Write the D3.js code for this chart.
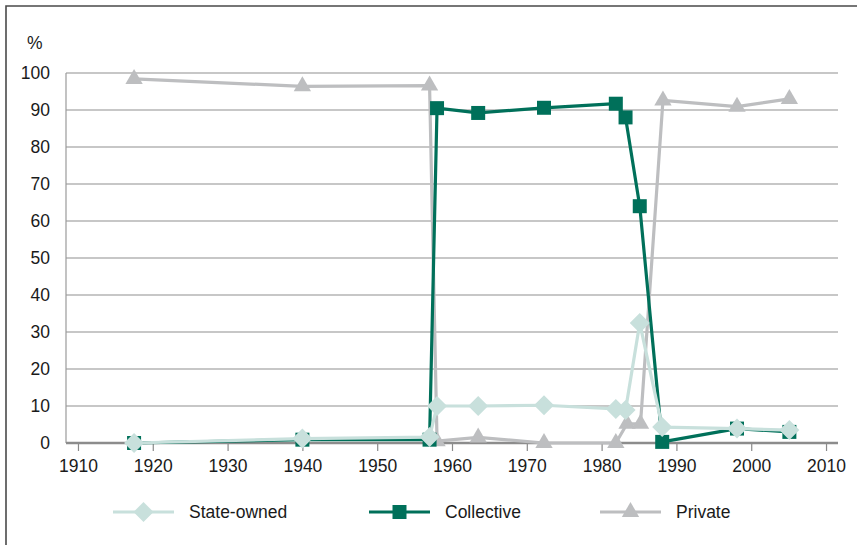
<!DOCTYPE html>
<html>
<head>
<meta charset="utf-8">
<script src="https://cdn.jsdelivr.net/npm/d3@7"></script>
<style>
  body { margin: 0; background: #fff; }
  svg text { font-family: "Liberation Sans", Arial, Helvetica, sans-serif; fill: #1a1a1a; }
</style>
</head>
<body>
<div id="container"></div>
<script>
// ---------- DATA ----------
const years = [1917.5, 1940, 1957, 1958, 1963.5, 1972.3, 1981.9, 1983.2, 1985.1, 1988.1, 1998.1, 2005.1];
const privateYears = [1917.5, 1940, 1957, 1958, 1963.5, 1972.3, 1981.9, 1983.4, 1985.2, 1988.2, 1998.1, 2005.1];
const stateOwned = [0, 1.2, 1.6, 10, 10, 10.2, 9.2, 8.9, 32.4, 4.3, 3.9, 3.5];
const collective = [0, 0.9, 0.9, 90.5, 89.2, 90.6, 91.7, 88, 64, 0.3, 3.9, 3];
const privateOwned = [98.4, 96.4, 96.6, 0.5, 1.5, 0, 0, 5.2, 5.2, 92.6, 90.9, 93];
const xTicks = [1910, 1920, 1930, 1940, 1950, 1960, 1970, 1980, 1990, 2000, 2010];
const yTicks = [0, 10, 20, 30, 40, 50, 60, 70, 80, 90, 100];

const colors = { state: '#c8e0dc', collective: '#00705a', private: '#bdbec0' };

// ---------- DIMENSIONS ----------
const width = 857;
const height = 545;
const plotLeft = 66, plotRight = 838, plotTop = 73, plotBottom = 443;

const svg = d3.select('#container').append('svg')
    .attr('width', width)
    .attr('height', height);

// frame (only top and left fall inside the picture)
svg.append('path')
    .attr('d', `M6,${height}V6H${width}`)
    .attr('fill', 'none')
    .attr('stroke', '#4a4a4a')
    .attr('stroke-width', 1.6);

const x = d3.scaleLinear().domain([1908.4, 2011.6]).range([plotLeft, plotRight]);
const y = d3.scaleLinear().domain([0, 100]).range([plotBottom, plotTop]);

// ---------- GRID & AXES ----------
svg.append('g')
    .selectAll('line')
    .data(yTicks.filter(d => d > 0))
    .join('line')
    .attr('x1', plotLeft).attr('x2', plotRight)
    .attr('y1', d => y(d)).attr('y2', d => y(d))
    .attr('stroke', '#b4b4b4')
    .attr('stroke-width', 1.6);

svg.append('line')
    .attr('x1', plotLeft).attr('x2', plotLeft)
    .attr('y1', plotTop).attr('y2', plotBottom)
    .attr('stroke', '#9a9a9a')
    .attr('stroke-width', 1.2);

const yAxis = svg.append('g')
    .attr('transform', `translate(${plotLeft},0)`)
    .call(d3.axisLeft(y).tickValues(yTicks).tickSize(0).tickPadding(16));
yAxis.select('.domain').remove();
yAxis.selectAll('text')
    .style('font-size', '17.5px')
    .attr('fill', '#1a1a1a');

const xAxis = svg.append('g')
    .attr('transform', `translate(0,${plotBottom})`)
    .call(d3.axisBottom(x).tickValues(xTicks).tickFormat(d3.format('d')).tickSize(8).tickPadding(9));
xAxis.select('.domain').remove();
xAxis.selectAll('.tick line').attr('stroke', '#8a8a8a').attr('stroke-width', 1.2);
xAxis.selectAll('text')
    .style('font-size', '17.5px')
    .attr('fill', '#1a1a1a');

svg.append('line')
    .attr('x1', plotLeft).attr('x2', plotRight)
    .attr('y1', plotBottom).attr('y2', plotBottom)
    .attr('stroke', '#8c8c8c')
    .attr('stroke-width', 2.6);

svg.append('text')
    .attr('x', 27).attr('y', 49)
    .style('font-size', '17.5px')
    .text('%');

// ---------- SERIES ----------
const diamond = d3.symbol().type(d3.symbolSquare).size(200);
const square = d3.symbol().type(d3.symbolSquare).size(196);
const triangle = d3.symbol().type(d3.symbolTriangle).size(130);

const series = [
    { name: 'Private', xs: privateYears, values: privateOwned, color: colors.private, symbol: triangle, rotate: 0 },
    { name: 'Collective', xs: years, values: collective, color: colors.collective, symbol: square, rotate: 0 },
    { name: 'State-owned', xs: years, values: stateOwned, color: colors.state, symbol: diamond, rotate: 45 }
];

const line = d3.line().x(d => x(d[0])).y(d => y(d[1]));

series.forEach(s => {
    const pts = s.xs.map((yr, i) => [yr, s.values[i]]);
    const g = svg.append('g');
    g.append('path')
        .attr('d', line(pts))
        .attr('fill', 'none')
        .attr('stroke', s.color)
        .attr('stroke-width', 3.2)
        .attr('stroke-linejoin', 'round');
    g.selectAll('path.mark')
        .data(pts)
        .join('path')
        .attr('class', 'mark')
        .attr('d', s.symbol())
        .attr('transform', d => `translate(${x(d[0])},${y(d[1])}) rotate(${s.rotate})`)
        .attr('fill', s.color);
});

// ---------- LEGEND ----------
const legendItems = [
    { label: 'State-owned', x0: 113, s: series[2] },
    { label: 'Collective', x0: 369, s: series[1] },
    { label: 'Private', x0: 600, s: series[0] }
];
const ly = 512;
const lg = svg.append('g');
legendItems.forEach(it => {
    lg.append('line')
        .attr('x1', it.x0).attr('x2', it.x0 + 61)
        .attr('y1', ly).attr('y2', ly)
        .attr('stroke', it.s.color)
        .attr('stroke-width', 3.2);
    lg.append('path')
        .attr('d', it.s.symbol())
        .attr('transform', `translate(${it.x0 + 30.5},${ly}) rotate(${it.s.rotate})`)
        .attr('fill', it.s.color);
    lg.append('text')
        .attr('x', it.x0 + 76)
        .attr('y', ly)
        .attr('dy', '0.36em')
        .style('font-size', '17.5px')
        .text(it.label);
});
</script>
</body>
</html>
